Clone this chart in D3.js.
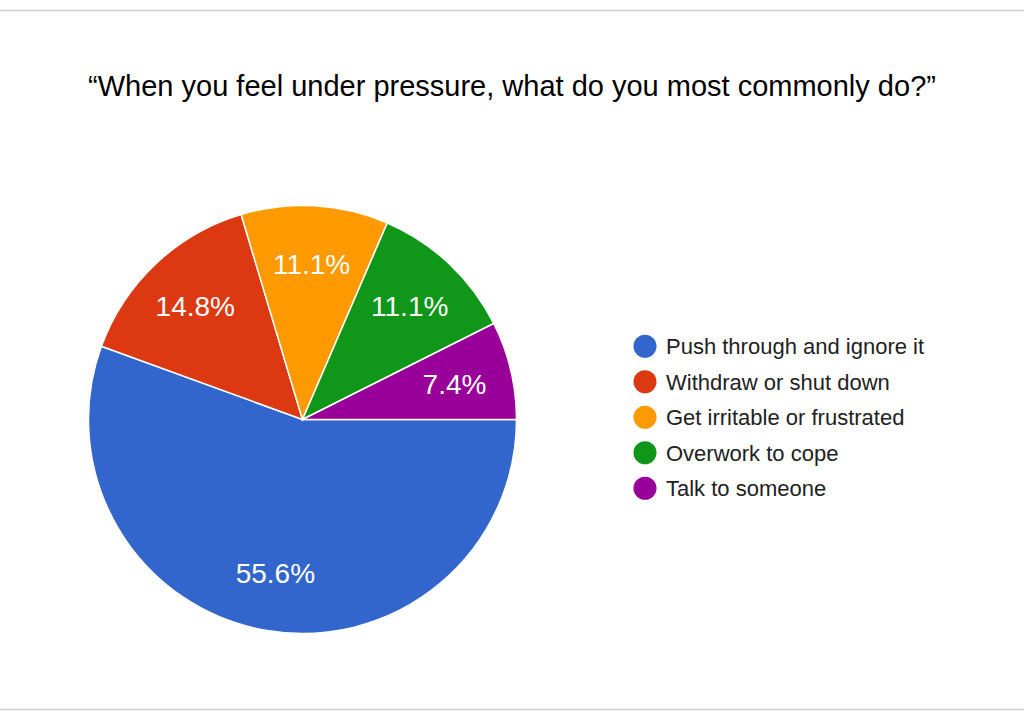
<!DOCTYPE html>
<html><head><meta charset="utf-8">
<script src="https://cdn.jsdelivr.net/npm/d3@7"></script>
<style>body{margin:0;background:#fff;} svg{display:block;}</style>
</head><body>
<svg id="chart" width="1024" height="720"></svg>
<script>
const title = "\u201CWhen you feel under pressure, what do you most commonly do?\u201D";
const categories = ["Push through and ignore it","Withdraw or shut down","Get irritable or frustrated","Overwork to cope","Talk to someone"];
const counts = [15, 4, 3, 3, 2];
const percentLabels = ["55.6%","14.8%","11.1%","11.1%","7.4%"];
const colors = ["#3366cc","#dc3912","#ff9900","#109618","#990099"];

const svg = d3.select("#chart");
const W = 1024, H = 720;
svg.append("rect").attr("width",W).attr("height",H).attr("fill","#fff");
svg.append("line").attr("x1",0).attr("x2",W).attr("y1",10.5).attr("y2",10.5).attr("stroke","#cccccc").attr("stroke-width",1.5);
svg.append("line").attr("x1",0).attr("x2",W).attr("y1",709.5).attr("y2",709.5).attr("stroke","#cccccc").attr("stroke-width",1.5);

svg.append("text").attr("x",512).attr("y",96).attr("text-anchor","middle")
  .attr("font-family","Liberation Sans, Arial, sans-serif").attr("font-size",29).attr("fill","#000")
  .text(title);

const cx = 302.5, cy = 419.5, R = 214;
const pie = d3.pie().sort(null).value(d=>d).startAngle(Math.PI/2).endAngle(Math.PI/2 + 2*Math.PI);
const arcs = pie(counts);
const arc = d3.arc().innerRadius(0).outerRadius(R);
const g = svg.append("g").attr("transform",`translate(${cx},${cy})`);
g.selectAll("path").data(arcs).join("path").attr("d",arc)
  .attr("fill",(d,i)=>colors[i]).attr("stroke","#fff").attr("stroke-width",1.5);
const labelArc = d3.arc().innerRadius(R*0.73).outerRadius(R*0.73);
g.selectAll("text").data(arcs).join("text")
  .attr("transform",d=>`translate(${labelArc.centroid(d)})`)
  .attr("text-anchor","middle").attr("dy","0.36em")
  .attr("font-family","Liberation Sans, Arial, sans-serif").attr("font-size",28).attr("fill","#fff")
  .text((d,i)=>percentLabels[i]);

const y = d3.scaleBand().domain(categories).range([328.5, 506]);
const lg = svg.append("g");
const items = lg.selectAll("g").data(categories).join("g")
  .attr("transform",d=>`translate(0,${y(d)+y.bandwidth()/2})`);
items.append("circle").attr("cx",645).attr("cy",0).attr("r",11.5).attr("fill",(d,i)=>colors[i]);
items.append("text").attr("x",666).attr("dy","0.36em")
  .attr("font-family","Liberation Sans, Arial, sans-serif").attr("font-size",22).attr("fill","#222")
  .text(d=>d);
</script>
</body></html>
